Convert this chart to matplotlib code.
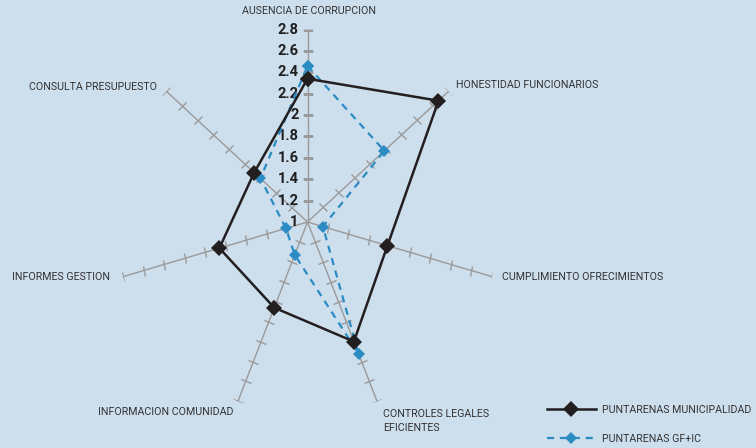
import numpy as np
import matplotlib
matplotlib.use("Agg")
import matplotlib.pyplot as plt
from matplotlib.markers import MarkerStyle
from matplotlib.transforms import Affine2D

# Categories and the direction (degrees, counter-clockwise from east) of each spoke
categories = [
    "AUSENCIA DE CORRUPCION",
    "HONESTIDAD FUNCIONARIOS",
    "CUMPLIMIENTO OFRECIMIENTOS",
    "CONTROLES LEGALES\nEFICIENTES",
    "INFORMACION COMUNIDAD",
    "INFORMES GESTION",
    "CONSULTA PRESUPUESTO",
]
spoke_angles = [90, 42.8, -16.5, -68.8, -111.2, -163.5, 137.2]

municipalidad = [2.34, 2.67, 1.78, 2.20, 1.86, 1.86, 1.68]
gf_ic = [2.46, 1.98, 1.15, 2.32, 1.33, 1.21, 1.60]

series_labels = ["PUNTARENAS MUNICIPALIDAD", "PUNTARENAS GF+IC"]
radial_ticks = [1, 1.2, 1.4, 1.6, 1.8, 2, 2.2, 2.4, 2.6, 2.8]
radial_tick_labels = ["1", "1.2", "1.4", "1.6", "1.8", "2", "2.2", "2.4", "2.6", "2.8"]

BG = "#cddeed"
TXT = "#333333"
GRAY = "#9a9a9a"
BLACK = "#231f20"
BLUE = "#2b8cc4"

FONT = ["Roboto", "DejaVu Sans"]

W, H = 756, 448
fig = plt.figure(figsize=(W / 100, H / 100), dpi=100, facecolor=BG)

cx, cy, R = 307.5, 222.0, 192.4
ax = fig.add_axes([(cx - R) / W, (H - cy - R) / H, 2 * R / W, 2 * R / H],
                  projection="polar")
ax.set_facecolor("none")
ax.set_ylim(1, 2.8)
ax.grid(False)
ax.spines["polar"].set_visible(False)
ax.set_xticks([])
ax.set_yticks([])

theta = np.deg2rad(spoke_angles)

# Spokes with perpendicular tick marks
for t, deg in zip(theta, spoke_angles):
    ax.plot([t, t], [1, 2.8], color=GRAY, lw=1.0, zorder=1)
    tick_marker = MarkerStyle("|", transform=Affine2D().rotate_deg(deg))
    ax.plot([t] * (len(radial_ticks) - 1), radial_ticks[1:], linestyle="none",
            marker=tick_marker, markersize=7.5, markeredgewidth=1.0,
            color=GRAY, zorder=1)

# Radial value labels along the top spoke
for v, lab in zip(radial_ticks, radial_tick_labels):
    ax.annotate(lab, xy=(theta[0], v), xytext=(-6.5, 0), textcoords="offset points",
                ha="right", va="center", fontsize=10.5, color="#1e1e1e",
                family=FONT, fontweight="bold", zorder=2)

# Series
closed_t = np.append(theta, theta[0])
ax.plot(closed_t, gf_ic + gf_ic[:1], color=BLUE, lw=1.6, linestyle=(0, (3.2, 2.6)),
        marker="D", markersize=6.4, markeredgewidth=0, zorder=3,
        label=series_labels[1])
ax.plot(closed_t, municipalidad + municipalidad[:1], color=BLACK, lw=1.8,
        marker="D", markersize=7.8, markeredgewidth=0, zorder=4,
        label=series_labels[0])

# Category labels (pixel positions in the figure)
label_pos = [
    (309, 11, "center"),
    (456, 85, "left"),
    (502, 277, "left"),
    (383, 421, "left"),
    (233, 412, "right"),
    (110, 277, "right"),
    (157, 87, "right"),
]
for name, (px, py, ha) in zip(categories, label_pos):
    fig.text(px / W, 1 - py / H, name, ha=ha, va="center", fontsize=7.7,
             color=TXT, family=FONT, linespacing=1.45)

# Legend
handles, labels = ax.get_legend_handles_labels()
order = [labels.index(s) for s in series_labels]
leg = fig.legend([handles[i] for i in order], [labels[i] for i in order],
                 loc="center left", bbox_to_anchor=(537 / W, 1 - 424.5 / H),
                 frameon=False, handlelength=4.6, handletextpad=0.6,
                 labelspacing=1.75, prop={"family": FONT, "size": 7.7})
for txt in leg.get_texts():
    txt.set_color(TXT)

fig.savefig("out.png", dpi=100, facecolor=BG)
